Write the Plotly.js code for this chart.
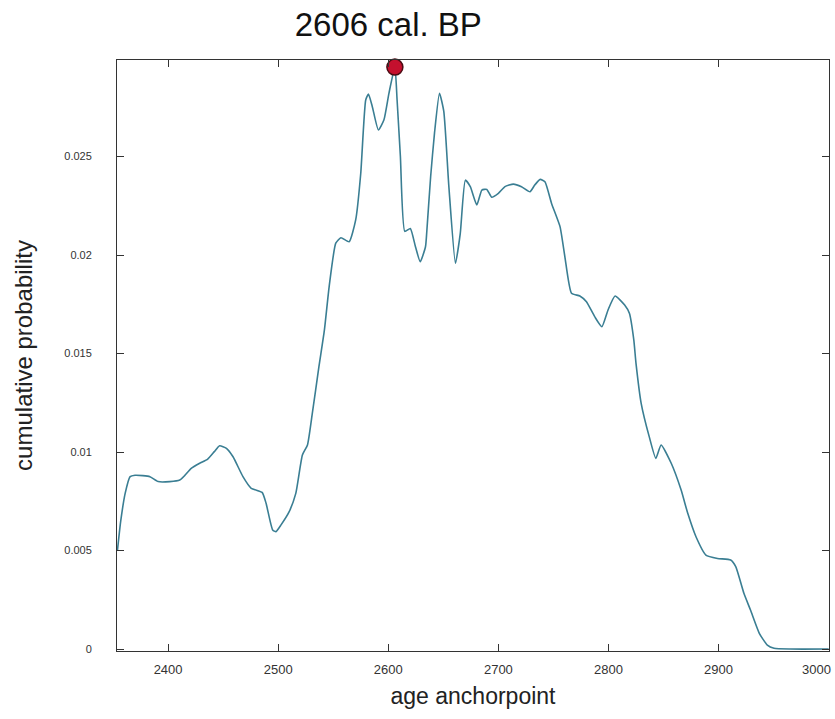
<!DOCTYPE html>
<html>
<head>
<meta charset="utf-8">
<script src="https://cdn.plot.ly/plotly-3.0.1.min.js"></script>
<style>html,body{margin:0;padding:0;background:#fff;}#chart{width:835px;height:719px;}</style>
</head>
<body>
<div id="chart"></div>
<script>
const ages = [2354, 2357, 2361, 2365.5, 2370, 2377, 2383.5, 2391, 2401.5, 2410.6, 2415, 2421, 2428.7, 2436, 2442, 2446.8, 2453, 2459, 2468, 2475.5, 2485.4, 2489, 2495, 2498, 2502.6, 2510, 2516, 2522, 2526.6, 2531, 2537, 2542, 2546.3, 2552.3, 2557, 2564.4, 2570.4, 2575, 2579.5, 2582, 2585.5, 2591, 2596, 2600.6, 2606, 2608, 2611, 2615, 2620, 2624.7, 2629, 2633.8, 2635, 2638.5, 2642, 2646.5, 2650.4, 2655, 2661, 2665.4, 2670, 2674.5, 2680.4, 2685, 2689.5, 2694, 2700, 2706, 2713.6, 2721, 2728.7, 2733, 2738, 2742.3, 2748.3, 2756, 2760.4, 2766.4, 2774, 2780, 2787.5, 2794, 2799.6, 2806, 2814.7, 2819, 2823, 2825, 2829.7, 2837, 2843, 2847.8, 2857, 2866, 2872, 2879.5, 2888.5, 2899, 2911, 2915.6, 2923, 2929, 2937, 2944.3, 2950.4, 2965, 3000];
const probability = [0.0050, 0.0065, 0.0079, 0.00875, 0.00882, 0.00880, 0.00875, 0.0085, 0.0085, 0.00858, 0.0088, 0.00917, 0.00943, 0.00964, 0.01002, 0.01032, 0.01019, 0.00976, 0.00875, 0.00816, 0.00795, 0.0074, 0.00604, 0.00596, 0.0063, 0.00697, 0.0079, 0.00985, 0.01036, 0.01196, 0.01433, 0.0162, 0.0184, 0.0206, 0.02088, 0.02067, 0.02178, 0.02415, 0.02787, 0.02817, 0.02753, 0.02635, 0.02685, 0.02821, 0.02954, 0.02787, 0.025, 0.0212, 0.02135, 0.02042, 0.01966, 0.02042, 0.0212, 0.0240, 0.0262, 0.02821, 0.0273, 0.0235, 0.01958, 0.0211, 0.0238, 0.02347, 0.02254, 0.0233, 0.02333, 0.02293, 0.02313, 0.02347, 0.0236, 0.02347, 0.02321, 0.02355, 0.02384, 0.02372, 0.02262, 0.02144, 0.01991, 0.01806, 0.01792, 0.01763, 0.01687, 0.01636, 0.01721, 0.01792, 0.01746, 0.01704, 0.01569, 0.0145, 0.01247, 0.01078, 0.00968, 0.01036, 0.00943, 0.00807, 0.00689, 0.0057, 0.00477, 0.0046, 0.00452, 0.00418, 0.00283, 0.00198, 0.0008, 0.0002, 0.00004, 0.0, 0.0];
const peakAge = [2606];
const peakProb = [0.02954];
const titleText = "2606 cal. BP";
const xTickVals = [2400, 2500, 2600, 2700, 2800, 2900, 3000];
const xTickText = ["2400", "2500", "2600", "2700", "2800", "2900", "3000"];
const yTickVals = [0, 0.005, 0.01, 0.015, 0.02, 0.025];
const yTickText = ["0", "0.005", "0.01", "0.015", "0.02", "0.025"];

const lastIdx = xTickVals.length - 1;
// the edge label (3000) is drawn right-aligned to its tick so it stays inside the page
const axisTickText = xTickText.map((t, i) => i === lastIdx ? "" : t);

const data = [
  {x: ages, y: probability, type: 'scatter', mode: 'lines',
   line: {color: '#3a7e93', width: 1.6, shape: 'spline', smoothing: 0.5},
   hoverinfo: 'x+y'},
  {x: peakAge, y: peakProb, type: 'scatter', mode: 'markers',
   marker: {size: 16, color: '#c4102e', line: {color: '#4a0a12', width: 1.5}},
   cliponaxis: false}
];

const font = 'Liberation Sans, Arial, sans-serif';
const layout = {
  width: 835, height: 719,
  margin: {l: 117, r: 6, t: 60, b: 68},
  paper_bgcolor: '#ffffff', plot_bgcolor: '#ffffff',
  showlegend: false,
  font: {family: font, color: '#222'},
  title: {text: titleText, font: {family: font, size: 33, color: '#111'},
          x: 0.465, xref: 'container', xanchor: 'center', y: 0.966, yref: 'container', yanchor: 'middle'},
  xaxis: {
    range: [2353.6, 3000.3], tickvals: xTickVals, ticktext: axisTickText, ticks: 'inside', ticklen: 7, tickcolor: '#333',
    showline: true, linecolor: '#333', linewidth: 1, mirror: 'ticks', showgrid: false, zeroline: false,
    tickfont: {size: 13, color: '#333'}, ticklabelstandoff: 6,
    title: {text: 'age anchorpoint', font: {size: 23, color: '#222'}, standoff: 12}
  },
  yaxis: {
    range: [-0.0001, 0.0299], tickvals: yTickVals, ticktext: yTickText, ticks: 'inside', ticklen: 7, tickcolor: '#333',
    showline: true, linecolor: '#333', linewidth: 1, mirror: 'ticks', showgrid: false, zeroline: false,
    tickfont: {size: 11, color: '#333'}, ticklabelstandoff: 22,
    title: {text: 'cumulative probability', font: {size: 24, color: '#222'}, standoff: 24}
  },
  annotations: [{
    x: xTickVals[lastIdx], xref: 'x', y: 0, yref: 'paper',
    text: xTickText[lastIdx], showarrow: false,
    xanchor: 'right', yanchor: 'middle', xshift: 4, yshift: -18,
    font: {family: font, size: 13, color: '#333'}
  }]
};
layout.xaxis.title.font.family = font;
layout.yaxis.title.font.family = font;
Plotly.newPlot('chart', data, layout, {displayModeBar: false, staticPlot: true});
</script>
</body>
</html>
